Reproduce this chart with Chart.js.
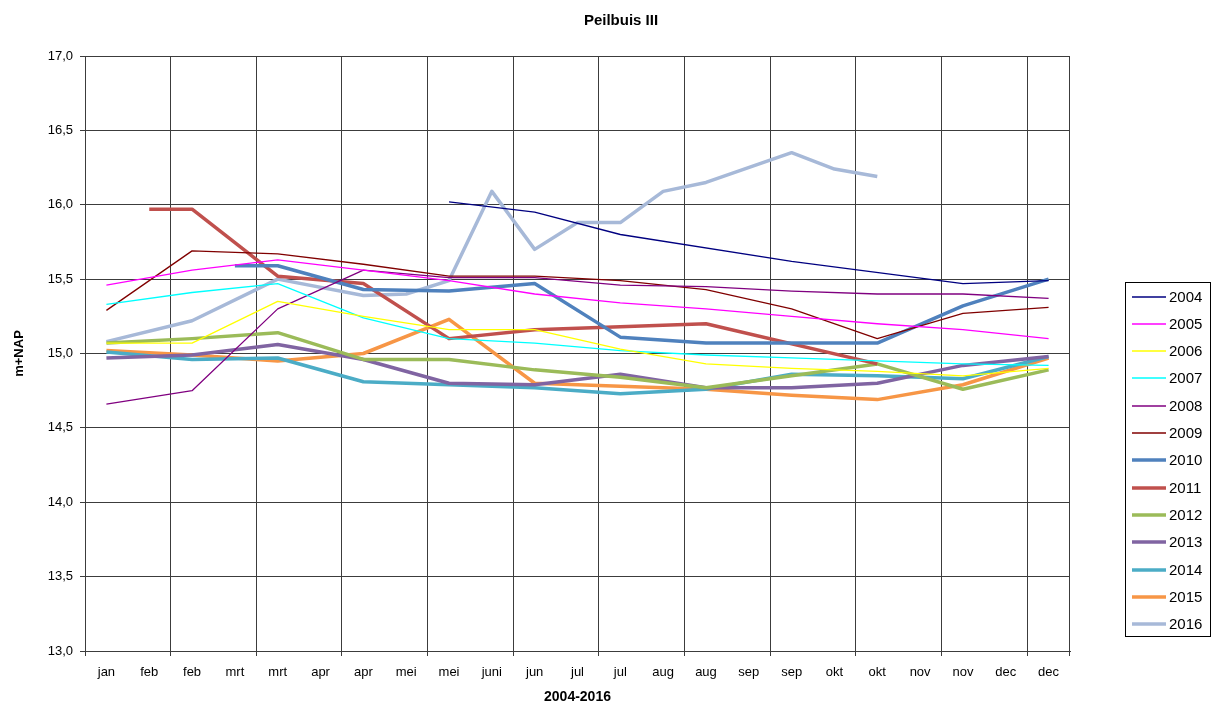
<!DOCTYPE html>
<html>
<head>
<meta charset="utf-8">
<title>Peilbuis III</title>
<script src="https://cdn.jsdelivr.net/npm/chart.js@4/dist/chart.umd.min.js"></script>
<style>
  html, body { margin: 0; padding: 0; background: #ffffff; }
  #wrap { width: 1221px; height: 707px; }
</style>
</head>
<body>
<div id="wrap"><canvas id="chart" width="1221" height="707"></canvas></div>
<script>
// Measurement moments (two readings per month)
const months = ['jan','feb','feb','mrt','mrt','apr','apr','mei','mei','juni','jun','jul',
                'jul','aug','aug','sep','sep','okt','okt','nov','nov','dec','dec'];

// Groundwater level per year, m+NAP (null = no reading at that moment)
const y2004 = [null,null,null,null,null,null,null,null,16.02,null,15.95,null,15.80,null,null,null,15.62,null,null,null,15.47,null,15.49];
const y2005 = [15.46,null,15.56,null,15.63,null,15.56,null,15.49,null,15.40,null,15.34,null,15.30,null,15.25,null,15.20,null,15.16,null,15.10];
const y2006 = [15.07,null,15.07,null,15.35,null,15.25,null,15.16,null,15.16,null,15.03,null,14.93,null,14.90,null,14.88,null,14.85,null,14.90];
const y2007 = [15.33,null,15.41,null,15.47,null,15.24,null,15.10,null,15.07,null,15.02,null,14.99,null,14.97,null,14.95,null,14.93,null,14.92];
const y2008 = [14.66,null,14.75,null,15.30,null,15.56,null,15.51,null,15.51,null,15.46,null,15.45,null,15.42,null,15.40,null,15.40,null,15.37];
const y2009 = [15.29,null,15.69,null,15.67,null,15.60,null,15.52,null,15.52,null,15.49,null,15.43,null,15.30,null,15.10,null,15.27,null,15.31];
const y2010 = [null,null,null,15.59,15.59,null,15.43,null,15.42,null,15.47,null,15.11,null,15.07,null,null,null,15.07,null,15.32,null,15.50];
const y2011 = [null,15.97,15.97,null,15.52,null,15.47,null,15.10,null,15.16,null,null,null,15.20,null,null,null,14.93,null,null,null,null];
const y2012 = [15.07,null,15.10,null,15.14,null,14.96,null,14.96,null,14.89,null,14.84,null,14.77,null,14.85,null,14.93,null,14.76,null,14.89];
const y2013 = [14.97,null,14.99,null,15.06,null,14.96,null,14.80,null,14.79,null,14.86,null,14.77,null,14.77,null,14.80,null,14.92,null,14.98];
const y2014 = [15.01,null,14.96,null,14.97,null,14.81,null,14.79,null,14.77,null,14.73,null,14.76,null,14.86,null,14.85,null,14.83,null,14.98];
const y2015 = [15.02,null,14.99,null,14.95,null,15.00,null,15.23,null,14.80,null,14.78,null,14.76,null,14.72,null,14.69,null,14.79,null,14.97];
const y2016 = [15.08,null,15.22,null,15.50,null,15.39,15.40,15.49,16.09,15.70,15.88,15.88,16.09,16.15,null,16.35,16.24,16.19,null,null,null,null];

const years  = ['2004','2005','2006','2007','2008','2009','2010','2011','2012','2013','2014','2015','2016'];
const series = [y2004,y2005,y2006,y2007,y2008,y2009,y2010,y2011,y2012,y2013,y2014,y2015,y2016];
const colors = ['#000080','#FF00FF','#FFFF00','#00FFFF','#800080','#800000',
                '#4F81BD','#C0504D','#9BBB59','#8064A2','#4BACC6','#F79646','#A7B9D8'];
const widths = [1.3,1.3,1.3,1.3,1.3,1.3,3.5,3.5,3.5,3.5,3.5,3.5,3.5];

const FONT = '"Liberation Sans", Arial, Helvetica, sans-serif';
const GRID = '#3c3c3c';

const datasets = years.map((y, i) => ({
  label: y,
  data: series[i],
  borderColor: colors[i],
  backgroundColor: colors[i],
  borderWidth: widths[i],
  pointRadius: 0,
  pointHoverRadius: 0,
  tension: 0,
  spanGaps: true,
  fill: false,
  borderJoinStyle: 'round',
  borderCapStyle: 'butt'
}));

// Centre the chart title over the full page width rather than the plot-plus-axes block
const titleShift = {
  id: 'titleShift',
  afterLayout(chart) {
    const t = chart.titleBlock;
    if (t) { t.left = 21; t.right = chart.width; }
  }
};

// Boxed legend at the right-hand side
const sideLegend = {
  id: 'sideLegend',
  afterDraw(chart) {
    const ctx = chart.ctx;
    const boxX = 1125, boxY = 282, boxW = 85, boxH = 354;
    const firstY = 296.5, step = 27.3;
    ctx.save();
    ctx.strokeStyle = '#000000';
    ctx.lineWidth = 1;
    ctx.strokeRect(boxX + 0.5, boxY + 0.5, boxW, boxH);
    ctx.font = '15px ' + FONT;
    ctx.textBaseline = 'middle';
    ctx.textAlign = 'left';
    chart.data.datasets.forEach((ds, i) => {
      const y = Math.round(firstY + i * step);
      ctx.strokeStyle = ds.borderColor;
      ctx.lineWidth = ds.borderWidth;
      ctx.beginPath();
      ctx.moveTo(1132, y);
      ctx.lineTo(1166, y);
      ctx.stroke();
      ctx.fillStyle = '#000000';
      ctx.fillText(ds.label, 1169, y + 0.5);
    });
    ctx.restore();
  }
};

new Chart(document.getElementById('chart'), {
  type: 'line',
  data: { labels: months, datasets },
  plugins: [titleShift, sideLegend],
  options: {
    responsive: false,
    animation: false,
    events: [],
    layout: { padding: { left: 0, right: 151, top: 0, bottom: 0 } },
    plugins: {
      legend: { display: false },
      tooltip: { enabled: false },
      title: {
        display: true,
        text: 'Peilbuis III',
        color: '#000000',
        font: { family: FONT, size: 15, weight: 'bold', lineHeight: 1.2 },
        padding: { top: 12, bottom: 26 }
      }
    },
    scales: {
      x: {
        type: 'category',
        offset: true,
        afterFit: (s) => { s.height = 56; },
        grid: {
          offset: true,
          drawOnChartArea: true,
          tickLength: 5,
          lineWidth: 1,
          color: (c) => (c.index === undefined || c.index % 2 === 0) ? GRID : 'rgba(0,0,0,0)'
        },
        border: { display: true, color: GRID, width: 1 },
        ticks: {
          autoSkip: false,
          maxRotation: 0,
          minRotation: 0,
          padding: 9,
          color: '#000000',
          font: { family: FONT, size: 13 }
        },
        title: {
          display: true,
          text: '2004-2016',
          color: '#000000',
          font: { family: FONT, size: 14, weight: 'bold', lineHeight: 1.2 },
          padding: { top: 0, bottom: 1 }
        }
      },
      y: {
        min: 13,
        max: 17,
        afterFit: (s) => { s.width = 85; },
        grid: { color: GRID, lineWidth: 1, tickLength: 5 },
        border: { display: true, color: GRID, width: 1 },
        ticks: {
          stepSize: 0.5,
          padding: 7,
          color: '#000000',
          font: { family: FONT, size: 13 },
          callback: (v) => Number(v).toFixed(1).replace('.', ',')
        },
        title: {
          display: true,
          text: 'm+NAP',
          color: '#000000',
          font: { family: FONT, size: 13, weight: 'bold', lineHeight: 1.2 },
          padding: { top: 12, bottom: 0 }
        }
      }
    }
  }
});
</script>
</body>
</html>
